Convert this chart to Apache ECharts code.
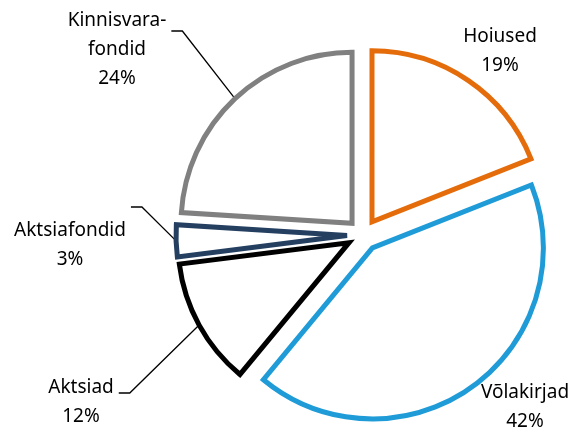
<!DOCTYPE html>
<html>
<head>
<meta charset="utf-8">
<script src="https://cdn.jsdelivr.net/npm/echarts@6/dist/echarts.min.js"></script>
<style>html,body{margin:0;background:#fff}</style>
</head>
<body>
<div id="main" style="width:574px;height:432px"></div>
<script>
// andmed
var categories = ['Hoiused', 'Võlakirjad', 'Aktsiad', 'Aktsiafondid', 'Kinnisvarafondid'];
var labelNames = ['Hoiused', 'Võlakirjad', 'Aktsiad', 'Aktsiafondid', 'Kinnisvara-\nfondid'];
var shares = [19, 42, 12, 3, 24];
var colors = ['#E46C0A', '#1F9BD7', '#000000', '#243F60', '#808080'];

// sildi keskpunkt ja juhtjoone kõrgus
var labelPos = [[500, 51], [525, 407], [81, 402], [70, 245], [117, 50]];
var leaderY = [null, null, 393, 207, 31];

var CENTER = [363, 235];
var RADIUS = 171;
var EXPLODE = 16;

var chart = echarts.init(document.getElementById('main'));

// väljatõmmatud sektorid
var pieData = categories.map(function (name, i) {
    return {
        name: name,
        value: shares[i],
        selected: true,
        itemStyle: { borderColor: colors[i] }
    };
});

// nähtamatu koopia ainult siltide jaoks
var labelData = categories.map(function (name, i) {
    return {
        name: name,
        value: shares[i],
        labelLine: { show: leaderY[i] != null }
    };
});

chart.setOption({
    animation: false,
    series: [{
        type: 'pie',
        center: CENTER,
        radius: [0, RADIUS],
        startAngle: 90,
        clockwise: true,
        selectedMode: 'multiple',
        selectedOffset: EXPLODE,
        silent: true,
        itemStyle: {
            color: '#ffffff',
            borderWidth: 5,
            borderJoin: 'miter'
        },
        select: { itemStyle: { color: '#ffffff', borderWidth: 5 } },
        emphasis: { disabled: true },
        label: { show: false },
        labelLine: { show: false },
        data: pieData
    }, {
        type: 'pie',
        center: CENTER,
        radius: [0, RADIUS],
        startAngle: 90,
        clockwise: true,
        silent: true,
        z: 1,
        itemStyle: { color: 'rgba(0,0,0,0)', borderWidth: 0 },
        emphasis: { disabled: true },
        label: {
            show: true,
            position: 'outside',
            overflow: 'none',
            fontFamily: 'Noto Sans',
            fontSize: 19,
            lineHeight: 29,
            color: '#000000',
            formatter: function (p) {
                return labelNames[p.dataIndex] + '\n' + p.value + '%';
            }
        },
        labelLine: {
            lineStyle: { color: '#000000', width: 1.3 }
        },
        labelLayout: function (params) {
            var i = params.dataIndex;
            var out = {
                x: labelPos[i][0],
                y: labelPos[i][1],
                align: 'center',
                verticalAlign: 'middle'
            };
            if (leaderY[i] != null && params.labelLinePoints) {
                // joon algab väljatõmmatud sektori kaarelt
                var p0 = params.labelLinePoints[0];
                var vx = p0[0] - CENTER[0], vy = p0[1] - CENTER[1];
                var len = Math.sqrt(vx * vx + vy * vy);
                var start = [p0[0] + vx / len * EXPLODE, p0[1] + vy / len * EXPLODE];
                var edge = labelPos[i][0] + params.labelRect.width / 2 + 5;
                out.labelLinePoints = [
                    start,
                    [edge + 11, leaderY[i]],
                    [edge, leaderY[i]]
                ];
            }
            return out;
        },
        data: labelData
    }]
});
</script>
</body>
</html>
